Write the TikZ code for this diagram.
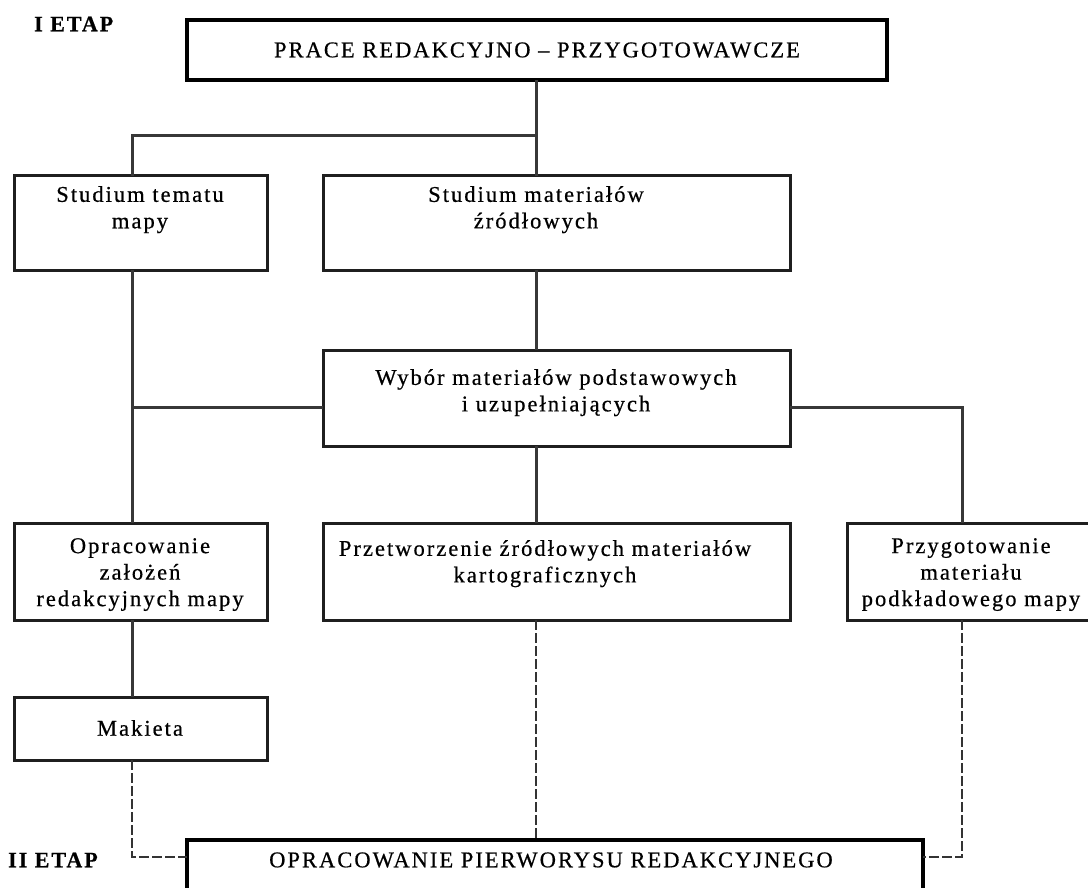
\documentclass[tikz,border=0pt]{standalone}
\usepackage{fontspec}
\setmainfont{Liberation Serif}[LetterSpace=9, FakeBold=0.6]
\begin{document}
\begin{tikzpicture}[x=1pt,y=-1pt,
  box/.style={draw=black!88, line width=3pt, inner sep=0pt, outer sep=0pt},
  bigbox/.style={draw=black, line width=4.5pt, inner sep=0pt, outer sep=0pt},
  txt/.style={font=\fontsize{22.5}{26.5}\selectfont, align=center, inner sep=0pt, anchor=north},
  etap/.style={font=\fontsize{22}{26}\selectfont\bfseries, inner sep=0pt, anchor=west},
  conn/.style={draw=black!78, line width=3pt},
  dconn/.style={draw=black!80, line width=2.6pt, dash pattern=on 10pt off 3pt}]
\useasboundingbox (0,0) rectangle (1088,888);
\clip (0,0) rectangle (1088,888);
% helper coordinates
\coordinate (lx) at (132,0);
\coordinate (cx) at (536,0);
\coordinate (rx) at (962,0);
\coordinate (h) at (0,407);
\coordinate (d) at (0,857);
\coordinate (j1) at (536,136);
% boxes
\node[bigbox, minimum width=700pt, minimum height=60pt] (top) at (537,50) {};
\node[box, minimum width=253pt, minimum height=94pt] (st) at (140.5,223) {};
\node[box, minimum width=467pt, minimum height=94pt] (sm) at (556.5,223) {};
\node[box, minimum width=467pt, minimum height=96pt] (wy) at (556.5,398) {};
\node[box, minimum width=253pt, minimum height=97pt] (op) at (140.5,571.5) {};
\node[box, minimum width=467pt, minimum height=97pt] (pt) at (556.5,571.5) {};
\node[box, minimum width=253pt, minimum height=97pt] (pg) at (973.5,571.5) {};
\node[box, minimum width=253pt, minimum height=63pt] (mk) at (140.5,728.5) {};
\node[bigbox, minimum width=736pt, minimum height=70pt] (bot) at (555,875) {};
% texts
\node[etap] (e1) at (34,24) {I ETAP};
\node[etap] (e2) at (8,860) {II ETAP};
\node[txt, anchor=center] (ttop) at (537,50) {PRACE REDAKCYJNO – PRZYGOTOWAWCZE};
\node[txt] (tst) at (140,186) {Studium tematu\\mapy};
\node[txt] (tsm) at (536,186) {Studium materiałów\\źródłowych};
\node[txt] (twy) at (556,369) {Wybór materiałów podstawowych\\i uzupełniających};
\node[txt] (top2) at (140,538) {Opracowanie\\założeń\\redakcyjnych mapy};
\node[txt] (tpt) at (545,540) {Przetworzenie źródłowych materiałów\\kartograficznych};
\node[txt] (tpg) at (971,538) {Przygotowanie\\materiału\\podkładowego mapy};
\node[txt, anchor=center] (tmk) at (140,728) {Makieta};
\node[txt, anchor=center] (tbot) at (551,860) {OPRACOWANIE PIERWORYSU REDAKCYJNEGO};
% solid connectors
\draw[conn] (top.south -| cx) -- (cx |- sm.north);
\draw[conn] (j1) -| (lx |- st.north);
\draw[conn] (cx |- sm.south) -- (cx |- wy.north);
\draw[conn] (cx |- wy.south) -- (cx |- pt.north);
\draw[conn] (lx |- st.south) -- (lx |- op.north);
\draw[conn] (wy.west |- h) -- (lx |- h);
\draw[conn] (wy.east |- h) -| (rx |- pg.north);
\draw[conn] (lx |- op.south) -- (lx |- mk.north);
% dashed connectors
\draw[dconn] (lx |- mk.south) |- (bot.west |- d);
\draw[dconn] (cx |- pt.south) -- (cx |- bot.north);
\draw[dconn] (rx |- pg.south) |- (bot.east |- d);
\end{tikzpicture}
\end{document}
